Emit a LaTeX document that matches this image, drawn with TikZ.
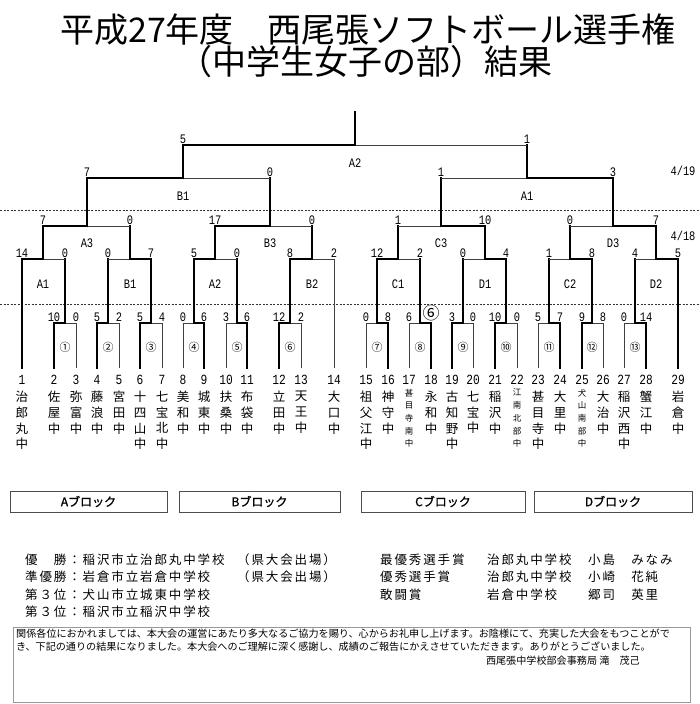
\documentclass[tikz,border=0pt]{standalone}
\usepackage{fontspec}
\setmainfont{Noto Sans CJK JP}
\newfontfamily\numfont[FakeStretch=0.8]{Liberation Mono}
\newfontfamily\blockfont[FakeBold=1.2]{Noto Sans CJK JP}

\begin{document}
\begin{tikzpicture}[x=1pt,y=-1pt,
  win/.style={line width=2.6pt,line cap=rect},
  lose/.style={line width=0.8pt,black!75},
  dashline/.style={line width=0.6pt,black!80,dash pattern=on 2pt off 1.5pt},
  score/.style={anchor=south,inner sep=0pt,yshift=1.5pt,font=\numfont\fontsize{13}{13}\selectfont},
  rndlabel/.style={inner sep=0pt,font=\numfont\fontsize{13}{13}\selectfont},
  teamno/.style={inner sep=0pt,font=\numfont\fontsize{14}{14}\selectfont},
  teamname/.style={anchor=north,align=center,inner sep=0pt,font=\fontsize{12.5}{15.7}\selectfont},
  smallname/.style={anchor=north,align=center,inner sep=0pt,yshift=2.3pt,font=\fontsize{8.5}{12.7}\selectfont},
  matchno/.style={inner sep=0pt,font=\fontsize{11}{11}\selectfont},
  blockbox/.style={draw=black!70,line width=0.8pt,minimum height=21pt,inner sep=0pt,font=\blockfont\fontsize{12}{12}\selectfont},
  result/.style={anchor=west,inner sep=0pt,font=\fontsize{12.5}{14}\selectfont\addfontfeature{LetterSpace=15}},
  msgline/.style={anchor=west,inner sep=0pt,font=\fontsize{10.1}{12}\selectfont}]
  \fill[white] (0,0) rectangle (700,704);
  \useasboundingbox (0,0) rectangle (700,704);
  % title
  \node[font=\fontsize{34}{34}\selectfont] (title1) at (368,30) {平成27年度　西尾張ソフトボール選手権};
  \node[font=\fontsize{34}{34}\selectfont] (title2) at (365,62) {（中学生女子の部）結果};
  % day separators
  \draw[dashline] (0,210) -- (700,210);
  \draw[dashline] (0,304) -- (700,304);
  \node[rndlabel] (day19) at (683,171) {4/19};
  \node[rndlabel] (day18) at (683,236) {4/18};
  % teams: number and name written top to bottom
  \foreach \i/\x/\nm/\st in {1/22/{治\\郎\\丸\\中}/teamname, 2/54/{佐\\屋\\中}/teamname,
    3/76/{弥\\富\\中}/teamname, 4/97/{藤\\浪\\中}/teamname, 5/119/{宮\\田\\中}/teamname,
    6/140/{十\\四\\山\\中}/teamname, 7/162/{七\\宝\\北\\中}/teamname, 8/183/{美\\和\\中}/teamname,
    9/204/{城\\東\\中}/teamname, 10/226/{扶\\桑\\中}/teamname, 11/247/{布\\袋\\中}/teamname,
    12/279/{立\\田\\中}/teamname, 13/301/{天\\王\\中}/teamname, 14/334/{大\\口\\中}/teamname,
    15/366/{祖\\父\\江\\中}/teamname, 16/388/{神\\守\\中}/teamname,
    17/409/{甚\\目\\寺\\南\\中}/smallname, 18/431/{永\\和\\中}/teamname,
    19/452/{古\\知\\野\\中}/teamname, 20/473/{七\\宝\\中}/teamname, 21/495/{稲\\沢\\中}/teamname,
    22/517/{江\\南\\北\\部\\中}/smallname, 23/538/{甚\\目\\寺\\中}/teamname,
    24/560/{大\\里\\中}/teamname, 25/582/{犬\\山\\南\\部\\中}/smallname,
    26/603/{大\\治\\中}/teamname, 27/624/{稲\\沢\\西\\中}/teamname, 28/646/{蟹\\江\\中}/teamname,
    29/678/{岩\\倉\\中}/teamname} {
    \node[teamno] (no\i) at (\x,380) {\i};
    \node[\st] (nm\i) at (\x,391) {\nm};
  }
  % teams that start in the second round
  \draw[win] (22,368) -- (22,259);
  \draw[lose] (334,368) -- (334,259);
  \draw[win] (678,368) -- (678,259);
  % first round: left x / right x / middle / scores / line styles
  \foreach \c/\a/\b/\m/\sa/\sb/\la/\lb in {①/54/76/65/10/0/win/lose,
    ②/97/119/108/5/2/win/lose, ③/140/162/151/5/4/win/lose,
    ④/183/204/194/0/6/lose/win, ⑤/226/247/237/3/6/lose/win,
    ⑥/279/301/290/12/2/win/lose, ⑦/366/388/377/0/8/lose/win,
    ⑧/409/431/420/6/{\normalfont\fontsize{17}{17}\selectfont\raisebox{2pt}{⑥}}/lose/win,
    ⑨/452/473/463/3/0/win/lose, ⑩/495/517/506/10/0/win/lose,
    ⑪/538/560/549/5/7/lose/win, ⑫/582/603/592/9/8/win/lose,
    ⑬/624/646/635/0/14/lose/win} {
    \draw[\la] (\a,368) -- (\a,323) -- (\m,323);
    \draw[\lb] (\b,368) -- (\b,323) -- (\m,323);
    \draw[win] (\m,323) -- (\m,259);
    \node[score] (sl\m) at (\a,323) {\sa};
    \node[score] (sr\m) at (\b,323) {\sb};
    \node[matchno] (c\m) at (\m,347) {\c};
  }
  % later rounds: y / next y / left x / right x / middle / scores / styles / label
  \foreach \y/\up/\a/\b/\m/\sa/\sb/\la/\lb/\lab/\ly in {
    259/226/22/65/43/14/0/win/lose/A1/284, 259/226/108/151/130/0/7/lose/win/B1/284,
    259/226/194/237/215/5/0/win/lose/A2/284, 259/226/290/334/312/8/2/win/lose/B2/284,
    259/226/377/420/398/12/2/win/lose/C1/284, 259/226/463/506/485/0/4/lose/win/D1/284,
    259/226/549/592/570/1/8/lose/win/C2/284, 259/226/635/678/656/4/5/lose/win/D2/284,
    226/178/43/130/87/7/0/win/lose/A3/243, 226/178/215/312/270/17/0/win/lose/B3/243,
    226/178/398/485/441/1/10/lose/win/C3/243, 226/178/570/656/613/0/7/lose/win/D3/243,
    178/145/87/270/183/7/0/win/lose/B1/196, 178/145/441/613/527/1/3/lose/win/A1/196,
    145/112/183/527/355/5/1/win/lose/A2/163} {
    \draw[\la] (\a,\y) -- (\m,\y);
    \draw[\lb] (\m,\y) -- (\b,\y);
    \draw[win] (\m,\y) -- (\m,\up);
    \node[score] (sl\m) at (\a,\y) {\sa};
    \node[score] (sr\m) at (\b,\y) {\sb};
    \node[rndlabel] (lab\m) at (\m,\ly) {\lab};
  }
  % blocks
  \foreach \k/\x/\w in {A/88.5/157pt,B/259.5/161pt,C/443/164pt,D/613/158pt}
    \node[blockbox,minimum width=\w] (blk\k) at (\x,501.5) {\k ブロック};
  % results
  \node[result] (res1) at (25,560) {優　勝：稲沢市立治郎丸中学校};
  \node[result] (res2) at (25,577) {準優勝：岩倉市立岩倉中学校};
  \node[result] (res3) at (25,595) {第３位：犬山市立城東中学校};
  \node[result] (res4) at (25,612) {第３位：稲沢市立稲沢中学校};
  \node[result] (pref1) at (237,560) {（県大会出場）};
  \node[result] (pref2) at (237,577) {（県大会出場）};
  \node[result] (prize1) at (380,560) {最優秀選手賞};
  \node[result] (prize2) at (380,577) {優秀選手賞};
  \node[result] (prize3) at (380,595) {敢闘賞};
  \node[result] (school1) at (487,560) {治郎丸中学校};
  \node[result] (school2) at (487,577) {治郎丸中学校};
  \node[result] (school3) at (487,595) {岩倉中学校};
  \node[result] (player1) at (588,560) {小島　みなみ};
  \node[result] (player2) at (588,577) {小崎　花純};
  \node[result] (player3) at (588,595) {郷司　英里};
  % message
  \draw[black!40] (13,627) rectangle (690,702);
  \node[msgline] (msg1) at (16,634) {関係各位におかれましては、本大会の運営にあたり多大なるご協力を賜り、心からお礼申し上げます。お陰様にて、充実した大会をもつことがで};
  \node[msgline] (msg2) at (16,647) {き、下記の通りの結果になりました。本大会へのご理解に深く感謝し、成績のご報告にかえさせていただきます。ありがとうございました。};
  \node[msgline,anchor=east] (sign) at (640,661) {西尾張中学校部会事務局 滝　茂己};
\end{tikzpicture}
\end{document}
